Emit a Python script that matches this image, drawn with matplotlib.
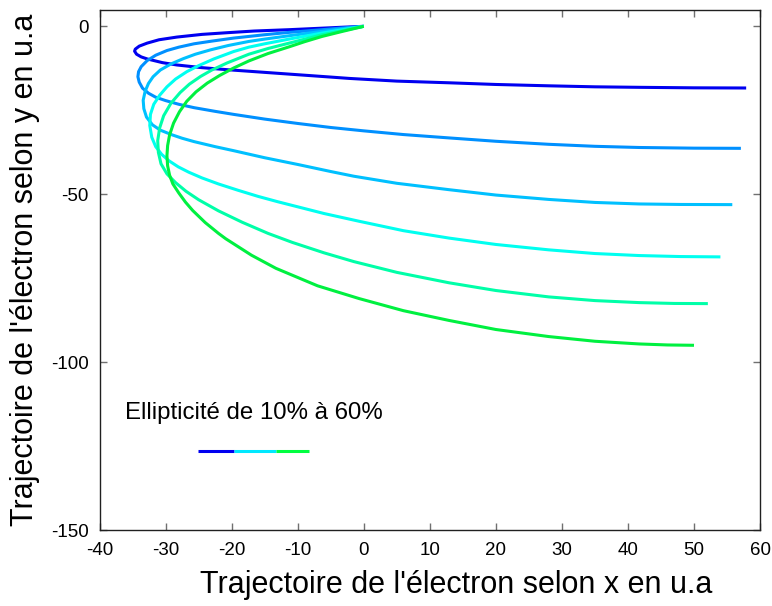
import matplotlib
matplotlib.use("Agg")
import matplotlib.pyplot as plt

plt.rcParams['font.family'] = ['Liberation Sans', 'DejaVu Sans']
plt.rcParams['axes.unicode_minus'] = False

# trajectoires (x, y) pour chaque ellipticité, de 10% à 60%
x_10 = [0, -3, -6.3, -11.3, -16.6, -20.7, -24.5, -28.3, -31.0, -32.8, -34.0, -34.6, -34.7,
        -34.4, -33.7, -32.8, -30.5, -28.3, -24.5, -20.7, -15.0, -10.0, -5.0, -2.2,
        5.0, 12.9, 20.0, 28.0, 35.0, 41.7, 50.0, 57.9]
y_10 = [0, -0.25, -0.55, -1.0, -1.4, -1.9, -2.4, -3.2, -4.0, -5.0, -5.9, -6.8, -7.4,
        -8.3, -9.1, -9.7, -10.8, -11.5, -12.3, -12.9, -13.7, -14.4, -15.1, -15.5,
        -16.3, -16.8, -17.3, -17.7, -18.0, -18.15, -18.3, -18.35]

x_20 = [0, -3, -6.3, -11.3, -15.0, -19.7, -23.0, -25.7, -28.0, -29.8, -31.5, -32.8, -33.7,
        -34.1, -34.2, -34.0, -33.5, -32.6, -31.5, -30.0, -28.0, -25.7, -22.5, -19.7,
        -15.0, -10.0, -5.0, 0.0, 6.0, 12.9, 20.0, 28.0, 35.0, 41.7, 50.0, 57.1]
y_20 = [0, -0.45, -1.0, -1.8, -2.5, -3.5, -4.4, -5.2, -6.2, -7.2, -8.6, -10.2, -12.0,
        -13.5, -15.0, -16.6, -18.4, -19.9, -21.1, -22.1, -23.2, -24.2, -25.3, -26.2,
        -27.6, -28.9, -30.1, -31.1, -32.2, -33.2, -34.2, -35.1, -35.7, -36.05, -36.25, -36.3]

x_30 = [0, -3, -6.3, -11.3, -15.0, -17.4, -20.5, -23.2, -25.5, -27.3, -29.2, -30.8, -31.9,
        -32.6, -33.1, -33.4, -33.3, -32.9, -32.0, -30.8, -29.0, -27.5, -25.7, -22.5,
        -19.7, -15.0, -10.0, -5.0, -1.5, 5.0, 12.9, 20.0, 28.0, 35.0, 41.7, 48.0, 55.8]
y_30 = [0, -0.7, -1.5, -2.8, -3.8, -4.5, -5.7, -7.0, -8.3, -9.6, -11.2, -13.0, -15.0,
        -17.0, -19.3, -22.0, -24.5, -27.0, -29.3, -30.9, -32.3, -33.3, -34.3, -35.8,
        -37.0, -39.1, -41.1, -43.2, -44.6, -46.7, -48.6, -50.2, -51.5, -52.4, -52.85, -53.0, -53.05]

x_40 = [0, -3, -6.3, -11.3, -15.0, -17.4, -19.7, -22.7, -25.0, -26.8, -28.5, -29.8, -30.9,
        -31.8, -32.3, -32.4, -32.1, -31.5, -30.6, -29.5, -28.1, -26.5, -24.5, -22.0,
        -19.0, -16.0, -13.0, -10.8, -6.0, -0.7, 6.0, 12.9, 20.0, 28.0, 35.0, 41.7, 48.0, 54.0]
y_40 = [0, -0.95, -2.0, -3.8, -5.2, -6.2, -7.5, -9.7, -11.7, -13.5, -15.7, -18.0, -20.5,
        -23.2, -26.2, -29.5, -33.0, -35.8, -38.1, -40.0, -41.8, -43.4, -45.1, -46.9,
        -48.8, -50.6, -52.2, -53.3, -55.7, -58.0, -60.8, -63.0, -64.9, -66.5, -67.6, -68.2, -68.5, -68.6]

x_50 = [0, -3, -6.3, -11.3, -14.5, -17.4, -20.7, -23.0, -24.7, -26.4, -27.8, -29.2, -30.3,
        -30.9, -31.2, -31.1, -30.7, -29.8, -28.5, -26.9, -25.0, -22.0, -18.4, -14.5,
        -10.8, -6.0, -1.5, 5.0, 12.9, 20.0, 28.0, 35.0, 41.7, 47.0, 52.1]
y_50 = [0, -1.2, -2.5, -5.0, -6.6, -8.3, -10.9, -13.0, -14.9, -17.2, -19.7, -22.9, -26.6,
        -30.2, -34.0, -37.5, -40.9, -43.9, -46.5, -49.1, -51.6, -54.9, -58.3, -61.6,
        -64.3, -67.4, -70.0, -73.2, -76.3, -78.6, -80.5, -81.6, -82.2, -82.45, -82.5]

x_60 = [0, -3, -6.3, -9.0, -11.3, -14.5, -17.4, -19.7, -21.8, -23.7, -25.4, -26.8, -27.9,
        -28.8, -29.4, -29.7, -29.8, -29.7, -29.4, -28.9, -28.0, -27.0, -25.9, -24.0,
        -22.0, -20.9, -17.0, -13.3, -7.0, -0.7, 6.0, 12.9, 20.0, 28.0, 35.0, 41.7, 46.0, 50.0]
y_60 = [0, -1.4, -3.0, -4.6, -6.1, -8.1, -10.3, -12.4, -14.6, -16.9, -19.5, -22.3, -25.4,
        -28.8, -32.3, -35.5, -38.5, -41.5, -44.3, -46.9, -49.6, -52.3, -54.8, -58.4,
        -61.6, -63.2, -68.1, -72.0, -77.2, -81.0, -84.6, -87.5, -90.2, -92.3, -93.7, -94.5, -94.8, -94.9]

courbes = [(x_10, y_10), (x_20, y_20), (x_30, y_30),
           (x_40, y_40), (x_50, y_50), (x_60, y_60)]
couleurs = ['#0000F0', '#0090FF', '#00C0FF', '#00FFF0', '#00FFA8', '#00F040']

# petit repère de couleurs sous le texte
repere_x = [0.149, 0.204, 0.267, 0.317]
repere_couleurs = ['#0000F0', '#00E8FF', '#00FF40']

fig = plt.figure(figsize=(7.72, 6.06), dpi=100)
ax = fig.add_axes([0.129, 0.1246, 0.8555, 0.8597])

for (xs, ys), c in zip(courbes, couleurs):
    ax.plot(xs, ys, color=c, lw=2.2, solid_joinstyle='round', solid_capstyle='butt')

ax.set_xlim(-40, 60)
ax.set_ylim(-150, 5)
ax.set_xticks(range(-40, 61, 10))
ax.set_yticks([0, -50, -100, -150])

ax.tick_params(direction='in', length=5, width=1, color='#707070',
               top=True, right=True, labelsize=13.5, pad=8)
for s in ax.spines.values():
    s.set_linewidth(1)
    s.set_color('#202020')

ax.set_xlabel("Trajectoire de l'électron selon x en u.a", fontsize=22)
ax.set_ylabel("Trajectoire de l'électron selon y en u.a", fontsize=22)
ax.xaxis.set_label_coords(0.54, -0.075)
ax.yaxis.set_label_coords(-0.09, 0.5)

ax.text(0.0386, 0.2255, "Ellipticité de 10% à 60%", transform=ax.transAxes,
        fontsize=17.3, va='center', ha='left')
for i, c in enumerate(repere_couleurs):
    ax.plot(repere_x[i:i + 2], [0.153, 0.153], color=c, lw=2.2,
            transform=ax.transAxes, solid_capstyle='butt')

fig.savefig('out.png', dpi=100)
